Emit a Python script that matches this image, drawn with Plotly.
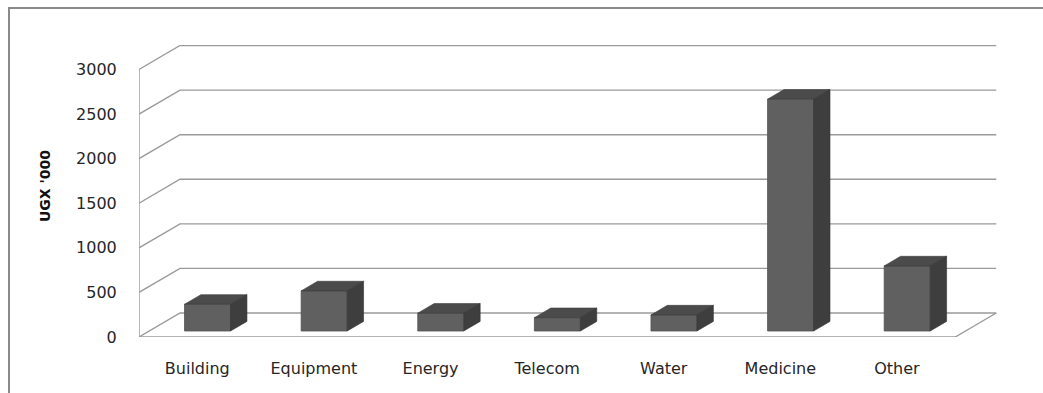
import plotly.graph_objects as go

categories = ["Building", "Equipment", "Energy", "Telecom", "Water", "Medicine", "Other"]
values = [300, 450, 200, 150, 180, 2600, 730]
y_ticks = [0, 500, 1000, 1500, 2000, 2500, 3000]

W, H = 1043, 393
ML, MR, MT, MB = 139, 46, 45, 56
PW, PH = W - ML - MR, H - MT - MB
XR = [-0.5, 6.858]
YR = [0, 3275]
ux = PW / (XR[1] - XR[0])      # px per x unit
uy = PH / (YR[1] - YR[0])      # px per y unit
DX = 41 / ux                   # wall depth in x units
DY = 24 / uy                   # wall depth in y units
n = len(categories)

GRID = "#9a9a9a"
FRONT, TOP, SIDE = "#606060", "#4b4b4b", "#3e3e3e"

fig = go.Figure()

shapes = []
# back wall gridlines with diagonal side wall segments
for v in y_ticks:
    shapes.append(dict(type="path", xref="x", yref="y", layer="below",
                       path=f"M {XR[0]},{v} L {XR[0]+DX},{v+DY} L {n-0.5+DX},{v+DY}",
                       line=dict(color=GRID, width=1.4)))
# side wall front edge
shapes.append(dict(type="line", xref="x", yref="y", layer="below",
                   x0=XR[0], y0=0, x1=XR[0], y1=y_ticks[-1],
                   line=dict(color=GRID, width=1.4)))
# floor front edge and right edge
shapes.append(dict(type="path", xref="x", yref="y", layer="below",
                   path=f"M {XR[0]},0 L {n-0.5},0 L {n-0.5+DX},{DY}",
                   line=dict(color=GRID, width=1.4)))

# outer chart border
def px2paper_x(px):
    return (px - ML) / PW

def px2paper_y(py):
    return (H - MB - py) / PH

shapes.append(dict(type="path", xref="paper", yref="paper", layer="below",
                   path=f"M {px2paper_x(9)},{px2paper_y(H+2)} L {px2paper_x(9)},{px2paper_y(8)} L {px2paper_x(W+2)},{px2paper_y(8)}",
                   line=dict(color="#8a8a8a", width=2)))

# 3D bars
bw = 46 / ux
f0 = 0.25
fd = 0.40
bx = [i + f0 * DX for i in range(n)]
b0 = f0 * DY
ddx, ddy = fd * DX, fd * DY

fig.add_trace(go.Bar(x=bx, y=values, base=[b0] * n, width=bw,
                     marker=dict(color=FRONT, line=dict(color="#505050", width=0.8)),
                     hoverinfo="skip", showlegend=False))

for xc, v in zip(bx, values):
    xl, xr = xc - bw / 2, xc + bw / 2
    yt = b0 + v
    # top face
    fig.add_trace(go.Scatter(x=[xl, xr, xr + ddx, xl + ddx, xl],
                             y=[yt, yt, yt + ddy, yt + ddy, yt],
                             mode="lines", fill="toself", fillcolor=TOP,
                             line=dict(color="#3a3a3a", width=0.6),
                             hoverinfo="skip", showlegend=False))
    # side face
    fig.add_trace(go.Scatter(x=[xr, xr + ddx, xr + ddx, xr, xr],
                             y=[b0, b0 + ddy, yt + ddy, yt, b0],
                             mode="lines", fill="toself", fillcolor=SIDE,
                             line=dict(color="#333333", width=0.6),
                             hoverinfo="skip", showlegend=False))

fig.update_layout(
    width=W, height=H,
    margin=dict(l=ML, r=MR, t=MT, b=MB),
    paper_bgcolor="white", plot_bgcolor="white",
    shapes=shapes,
    showlegend=False,
    font=dict(family="DejaVu Sans", size=16, color="#262626"),
    xaxis=dict(range=XR, tickmode="array", tickvals=list(range(n)), ticktext=categories,
               showgrid=False, zeroline=False, showline=False,
               ticks="outside", ticklen=17, tickcolor="rgba(0,0,0,0)",
               tickfont=dict(size=16, color="#262626"), fixedrange=True),
    yaxis=dict(range=YR, tickmode="array", tickvals=y_ticks, ticktext=[str(t) for t in y_ticks],
               showgrid=False, zeroline=False, showline=False,
               ticks="outside", ticklen=18, tickcolor="rgba(0,0,0,0)",
               tickfont=dict(size=16, color="#262626"), fixedrange=True),
    annotations=[dict(text="<b>UGX '000</b>", xref="paper", yref="paper",
                      x=px2paper_x(45), y=px2paper_y(186), textangle=-90,
                      showarrow=False, xanchor="center", yanchor="middle",
                      font=dict(family="DejaVu Sans", size=14, color="#111111"))],
)

fig.write_html("out.html")
